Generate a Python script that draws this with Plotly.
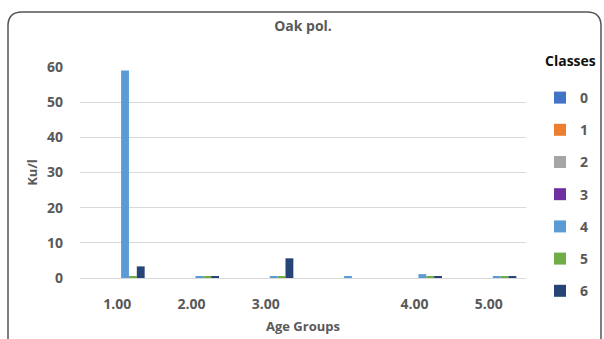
import plotly.graph_objects as go

categories = ["1.00", "2.00", "3.00", " ", "4.00", "5.00"]
classes = ["0", "1", "2", "3", "4", "5", "6"]
colors = ["#4472C4", "#ED7D31", "#A5A5A5", "#7030A0", "#5B9BD5", "#70AD47", "#264478"]

class0 = [0, 0, 0, 0, 0, 0]
class1 = [0, 0, 0, 0, 0, 0]
class2 = [0, 0, 0, 0, 0, 0]
class3 = [0, 0, 0, 0, 0, 0]
class4 = [59.0, 0.4, 0.4, 0.4, 1.1, 0.4]
class5 = [0.3, 0.4, 0.4, 0, 0.4, 0.4]
class6 = [3.3, 0.4, 5.6, 0, 0.4, 0.5]
series = [class0, class1, class2, class3, class4, class5, class6]

W, H = 604, 339
L, R, T, B = 80, 526, 67, 278

fig = go.Figure()
for name, vals, col in zip(classes, series, colors):
    fig.add_trace(go.Bar(
        x=categories, y=vals, name=f"<b>{name}</b>",
        marker=dict(color=col, line=dict(width=0)),
        legendgroup=name,
    ))

def px_x(p):
    return (p - L) / (R - L)

def px_y(p):
    return (B - p) / (B - T)

# rounded frame
x0, x1, y0, y1, r = 8, 601, 12, 350, 14
path = (
    f"M {px_x(x0)},{px_y(y1)} L {px_x(x0)},{px_y(y0 + r)} "
    f"Q {px_x(x0)},{px_y(y0)} {px_x(x0 + r)},{px_y(y0)} "
    f"L {px_x(x1 - r)},{px_y(y0)} Q {px_x(x1)},{px_y(y0)} {px_x(x1)},{px_y(y0 + r)} "
    f"L {px_x(x1)},{px_y(y1)}"
)

grey = "#595959"
font_family = "Open Sans, Liberation Sans, sans-serif"

fig.update_layout(
    width=W, height=H,
    margin=dict(l=L, r=W - R, t=T, b=H - B, autoexpand=False),
    paper_bgcolor="white", plot_bgcolor="white",
    barmode="group", bargap=0.26, bargroupgap=0.0,
    font=dict(family=font_family, color=grey),
    title=dict(text="<b>Oak pol.</b>", x=0.5, xref="paper", xanchor="center",
               y=1 - 26 / H, yanchor="middle",
               font=dict(size=14, color=grey)),
    showlegend=True,
    legend=dict(
        x=px_x(540), xanchor="left", y=px_y(82), yanchor="top",
        traceorder="grouped", tracegroupgap=11,
        font=dict(size=14, color=grey),
        itemwidth=30, bgcolor="rgba(0,0,0,0)",
        maxheight=320,
    ),
    shapes=[dict(type="path", path=path, xref="paper", yref="paper",
                 line=dict(color="#555555", width=1.5), layer="above")],
    annotations=[dict(text="<b>Classes</b>", x=px_x(570), y=px_y(60), xref="paper", yref="paper",
                      showarrow=False, xanchor="center", yanchor="middle",
                      font=dict(size=14, color="#111111"))],
)

fig.update_xaxes(
    type="category", showgrid=False, showline=False, zeroline=False,
    tickfont=dict(size=14, color=grey, family=font_family),
    title=dict(text="<b>Age Groups</b>", font=dict(size=13, color=grey), standoff=9),
    ticklabelstandoff=16,
    ticktext=[f"<b>{c}</b>" for c in categories], tickvals=categories,
)
fig.update_yaxes(
    range=[0, 60], dtick=10, showgrid=True, gridcolor="#D9D9D9", gridwidth=1.2,
    zeroline=True, zerolinecolor="#D9D9D9", zerolinewidth=1.2, showline=False,
    tickfont=dict(size=14, color=grey, family=font_family),
    title=dict(text="<b>Ku/l</b>", font=dict(size=13, color=grey), standoff=6),
    ticklabelstandoff=16,
    tickformat="d", tickprefix="<b>", ticksuffix="</b>",
)

fig.write_html("out.html", config={"displayModeBar": False},
               post_script="document.body.style.margin='0';")
